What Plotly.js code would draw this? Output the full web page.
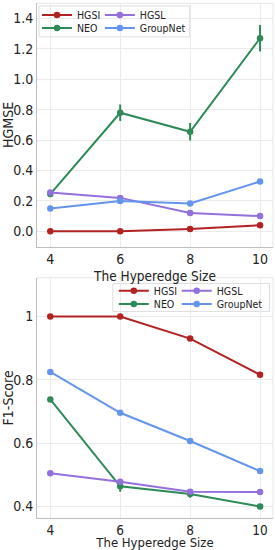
<!DOCTYPE html>
<html>
<head>
<meta charset="utf-8">
<script src="https://cdn.plot.ly/plotly-3.0.1.min.js"></script>
<style>
html,body{margin:0;padding:0;background:#fff;}
#chart{width:275px;height:550px;}
</style>
</head>
<body>
<div id="chart"></div>
<script>
// ---- data ----
const hyperedgeSizes = [4, 6, 8, 10];
const methods = ["HGSI", "NEO", "HGSL", "GroupNet"];

const hgmseHGSI = [0.0, 0.0, 0.015, 0.04];
const hgmseNEO = [0.245, 0.78, 0.655, 1.27];
const hgmseNEOErr = [0.01, 0.055, 0.057, 0.087];
const hgmseHGSL = [0.255, 0.22, 0.12, 0.10];
const hgmseGroupNet = [0.15, 0.20, 0.183, 0.328];

const f1HGSI = [1.0, 1.0, 0.93, 0.816];
const f1NEO = [0.738, 0.464, 0.44, 0.40];
const f1NEOErr = [0.004, 0.017, 0.012, 0.004];
const f1HGSL = [0.505, 0.478, 0.447, 0.446];
const f1GroupNet = [0.825, 0.696, 0.607, 0.512];

const hgmseTicks = [0.0, 0.2, 0.4, 0.6, 0.8, 1.0, 1.2, 1.4];
const hgmseTickText = ["0.0", "0.2", "0.4", "0.6", "0.8", "1.0", "1.2", "1.4"];
const f1Ticks = [0.4, 0.6, 0.8, 1.0];
const f1TickText = ["0.4", "0.6", "0.8", "1"];

// ---- styling ----
const colors = {HGSI: "#b22222", NEO: "#2e8b57", HGSL: "#9370db", GroupNet: "#6495ed"};
const FONT = "DejaVu Sans Condensed, DejaVu Sans, sans-serif";

function trace(name, y, xa, ya, legend, err) {
  const t = {
    x: hyperedgeSizes, y: y, name: name, type: "scatter", mode: "lines+markers",
    xaxis: xa, yaxis: ya, legend: legend,
    line: {color: colors[name], width: 2},
    marker: {color: colors[name], size: 6.5}
  };
  if (err) t.error_y = {type: "data", array: err, visible: true, color: colors[name], thickness: 2, width: 0};
  return t;
}

const data = [
  trace("HGSI", hgmseHGSI, "x", "y", "legend"),
  trace("NEO", hgmseNEO, "x", "y", "legend2", hgmseNEOErr),
  trace("HGSL", hgmseHGSL, "x", "y", "legend3"),
  trace("GroupNet", hgmseGroupNet, "x", "y", "legend4"),
  trace("HGSI", f1HGSI, "x2", "y2", "legend5"),
  trace("NEO", f1NEO, "x2", "y2", "legend6", f1NEOErr),
  trace("HGSL", f1HGSL, "x2", "y2", "legend7"),
  trace("GroupNet", f1GroupNet, "x2", "y2", "legend8")
];

const W = 275, H = 550;
const M = {l: 37, r: 1.5, t: 2, b: 32};
const PW = W - M.l - M.r, PH = H - M.t - M.b;
const px = v => (v - M.l) / PW;
const py = v => 1 - (v - M.t) / PH;

function lg(xpx, ypx) {
  return {x: px(xpx), y: py(ypx), xref: "paper", yref: "paper", xanchor: "left", yanchor: "middle",
    bgcolor: "rgba(0,0,0,0)", borderwidth: 0, font: {family: FONT, size: 10.5, color: "#222"}};
}

const axisCommon = {
  showgrid: true, gridcolor: "#ebebeb", gridwidth: 1, zeroline: false,
  showline: true, linecolor: "#bdbdbd", linewidth: 1, ticks: "",
  tickfont: {family: FONT, size: 14, color: "#222"}
};
const xCommon = Object.assign({}, axisCommon, {
  domain: [0, 1], range: [3.62, 10.37],
  tickvals: hyperedgeSizes, ticktext: hyperedgeSizes.map(String)
});

const layout = {
  width: W, height: H,
  margin: M,
  paper_bgcolor: "#fff", plot_bgcolor: "#fff",
  showlegend: true,
  xaxis: Object.assign({}, xCommon, {
    anchor: "y",
    title: {text: "The Hyperedge Size", font: {family: FONT, size: 13.5, color: "#222"}, standoff: 5}
  }),
  yaxis: Object.assign({}, axisCommon, {
    domain: [py(246), py(2.3)], anchor: "x", range: [-0.1, 1.5],
    tickvals: hgmseTicks, ticktext: hgmseTickText,
    title: {text: "HGMSE", font: {family: FONT, size: 14, color: "#222"}, standoff: 2}
  }),
  xaxis2: Object.assign({}, xCommon, {
    anchor: "y2", tickfont: {family: FONT, size: 13.5, color: "#222"},
    title: {text: "The Hyperedge Size", font: {family: FONT, size: 13, color: "#222"}, standoff: 6}
  }),
  yaxis2: Object.assign({}, axisCommon, {
    domain: [0, py(277.3)], anchor: "x2", range: [0.364, 1.122],
    tickvals: f1Ticks, ticktext: f1TickText,
    title: {text: "F1-Score", font: {family: FONT, size: 14, color: "#222"}, standoff: 2}
  }),
  legend: lg(37, 15),
  legend2: lg(37, 28),
  legend3: lg(100, 15),
  legend4: lg(100, 28),
  legend5: lg(114, 290.7),
  legend6: lg(114, 304),
  legend7: lg(177, 290.7),
  legend8: lg(177, 304),
  shapes: [
    {type: "line", xref: "x domain", yref: "y domain", x0: 0, x1: 1, y0: 1, y1: 1, line: {color: "#e6e6e6", width: 1}},
    {type: "line", xref: "x domain", yref: "y domain", x0: 1, x1: 1, y0: 0, y1: 1, line: {color: "#e6e6e6", width: 1}},
    {type: "line", xref: "x2 domain", yref: "y2 domain", x0: 0, x1: 1, y0: 1, y1: 1, line: {color: "#e6e6e6", width: 1}},
    {type: "line", xref: "x2 domain", yref: "y2 domain", x0: 1, x1: 1, y0: 0, y1: 1, line: {color: "#e6e6e6", width: 1}},
    {type: "rect", xref: "paper", yref: "paper", x0: px(39), x1: px(190), y0: py(36), y1: py(5),
      line: {color: "#dddddd", width: 1}, fillcolor: "rgba(255,255,255,0.8)", layer: "below"},
    {type: "rect", xref: "paper", yref: "paper", x0: px(113), x1: px(270), y0: py(311), y1: py(283),
      line: {color: "#dddddd", width: 1}, fillcolor: "rgba(255,255,255,0.8)", layer: "below"}
  ]
};

Plotly.newPlot("chart", data, layout, {displayModeBar: false, staticPlot: true});
</script>
</body>
</html>
